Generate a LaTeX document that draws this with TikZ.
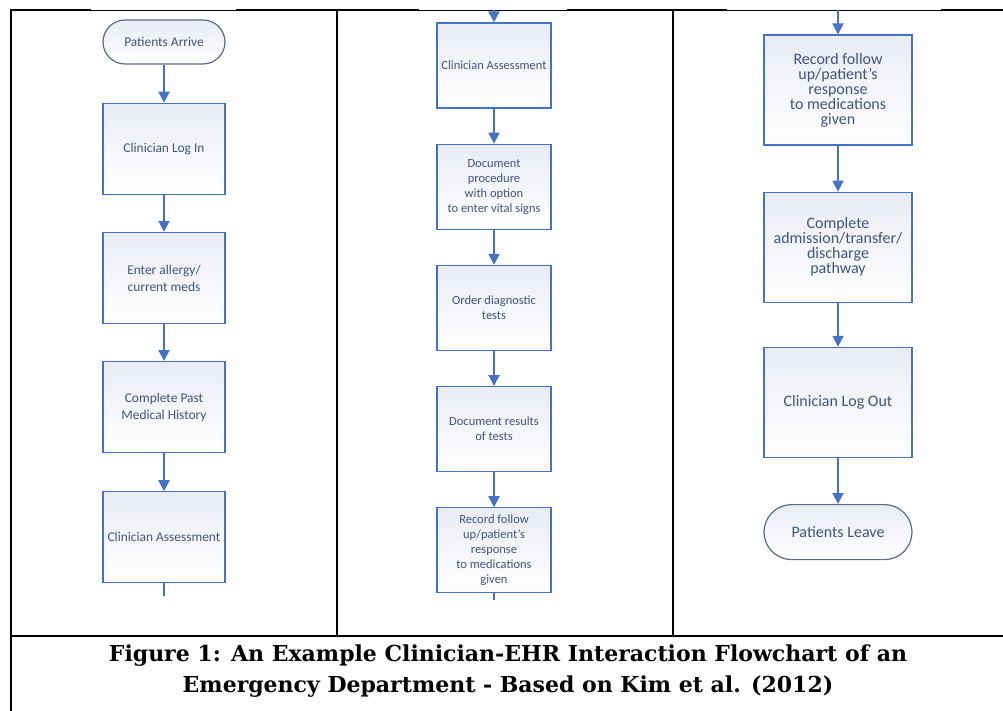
\documentclass[tikz,border=0pt]{standalone}
\usepackage{fontspec}
\newfontfamily\flowfont{Carlito}
\newfontfamily\capfont{DejaVu Serif}
\usetikzlibrary{arrows.meta,positioning,calc}
\definecolor{flowblue}{RGB}{68,114,196}
\definecolor{flowtext}{RGB}{64,84,128}
\definecolor{termedge}{RGB}{92,106,136}
\definecolor{boxshade}{RGB}{233,236,244}
\tikzset{every picture/.style={line width=0.75pt}}
\tikzset{
  flowbox/.style={draw=flowblue, line width=1.2pt, top color=boxshade, bottom color=white,
    align=center, text=flowtext, inner sep=2pt},
  leftbox/.style={flowbox, minimum width=122pt, minimum height=91pt,
    font=\flowfont\fontsize{13.4}{17}\selectfont},
  midbox/.style={flowbox, minimum width=114pt, minimum height=85pt,
    font=\flowfont\fontsize{12.5}{15}\selectfont},
  rightbox/.style={flowbox, minimum width=148pt, minimum height=110pt,
    font=\flowfont\fontsize{16}{15}\selectfont},
  endcap/.style={draw=termedge, rounded corners=#1},
  flowarrow/.style={draw=flowblue, line width=2pt, -{Triangle[width=11pt,length=11pt]}},
  flowline/.style={draw=flowblue, line width=2pt},
  tableline/.style={line width=2pt, line cap=rect},
  thinline/.style={line width=0.8pt}
}

\begin{document}
\begin{tikzpicture}[x=1pt, y=-1pt]
    \useasboundingbox (0,0) rectangle (1003,711);
    % 表格框线
    \draw[tableline] (11,10) -- (90,10);
    \draw[thinline] (90,10) -- (237,10);
    \draw[tableline] (237,10) -- (418,10);
    \draw[thinline] (418,10) -- (568,10);
    \draw[tableline] (568,10) -- (726,10);
    \draw[thinline] (726,10) -- (942,10);
    \draw[tableline] (942,10) -- (1003,10);
    \draw[tableline] (11,10) -- (11,711);
    \draw[tableline] (337,10) -- (337,636);
    \draw[tableline] (673,10) -- (673,636);
    \draw[tableline] (11,636) -- (1003,636);
    % 左列
    \node[leftbox, endcap=22pt, minimum height=44pt] (arrive) at (164,42) {Patients Arrive};
    \node[leftbox, below=38pt of arrive] (login) {Clinician Log In};
    \node[leftbox, below=37pt of login] (allergy) {Enter allergy/\\current meds};
    \node[leftbox, below=37pt of allergy] (history) {Complete Past\\Medical History};
    \node[leftbox, below=38pt of history] (assessL) {Clinician Assessment};
    \coordinate (tailL) at (164,596);
    \draw[flowarrow] (arrive) -- (login);
    \draw[flowarrow] (login) -- (allergy);
    \draw[flowarrow] (allergy) -- (history);
    \draw[flowarrow] (history) -- (assessL);
    \draw[flowline] (assessL) -- (tailL);
    % 中列
    \coordinate (headM) at (494,10);
    \node[midbox] (assessM) at (494,65.5) {Clinician Assessment};
    \node[midbox, below=35pt of assessM] (procedure) {Document\\procedure\\with option\\to enter vital signs};
    \node[midbox, below=35pt of procedure] (order) {Order diagnostic\\tests};
    \node[midbox, below=35pt of order] (results) {Document results\\of tests};
    \node[midbox, below=35pt of results] (followM) {Record follow\\up/patient’s\\response\\to medications\\given};
    \coordinate (tailM) at (494,600);
    \draw[flowarrow] (headM) -- (assessM);
    \draw[flowarrow] (assessM) -- (procedure);
    \draw[flowarrow] (procedure) -- (order);
    \draw[flowarrow] (order) -- (results);
    \draw[flowarrow] (results) -- (followM);
    \draw[flowline] (followM) -- (tailM);
    % 右列
    \coordinate (headR) at (838,10);
    \node[rightbox] (followR) at (838,90) {Record follow\\up/patient’s\\response\\to medications\\given};
    \node[rightbox, below=46pt of followR] (discharge) {Complete\\admission/transfer/\\discharge\\pathway};
    \node[rightbox, below=44pt of discharge] (logout) {Clinician Log Out};
    \node[rightbox, endcap=27.5pt, minimum height=55pt, below=46pt of logout] (leave) {Patients Leave};
    \draw[flowarrow] (headR) -- (followR);
    \draw[flowarrow] (followR) -- (discharge);
    \draw[flowarrow] (discharge) -- (logout);
    \draw[flowarrow] (logout) -- (leave);
    % 图题
    \node[align=center, font=\capfont\bfseries\fontsize{22}{31}\selectfont] (caption) at (508,671)
      {Figure 1: An Example Clinician-EHR Interaction Flowchart of an\\
       Emergency Department - Based on Kim et al. (2012)};
\end{tikzpicture}
\end{document}
